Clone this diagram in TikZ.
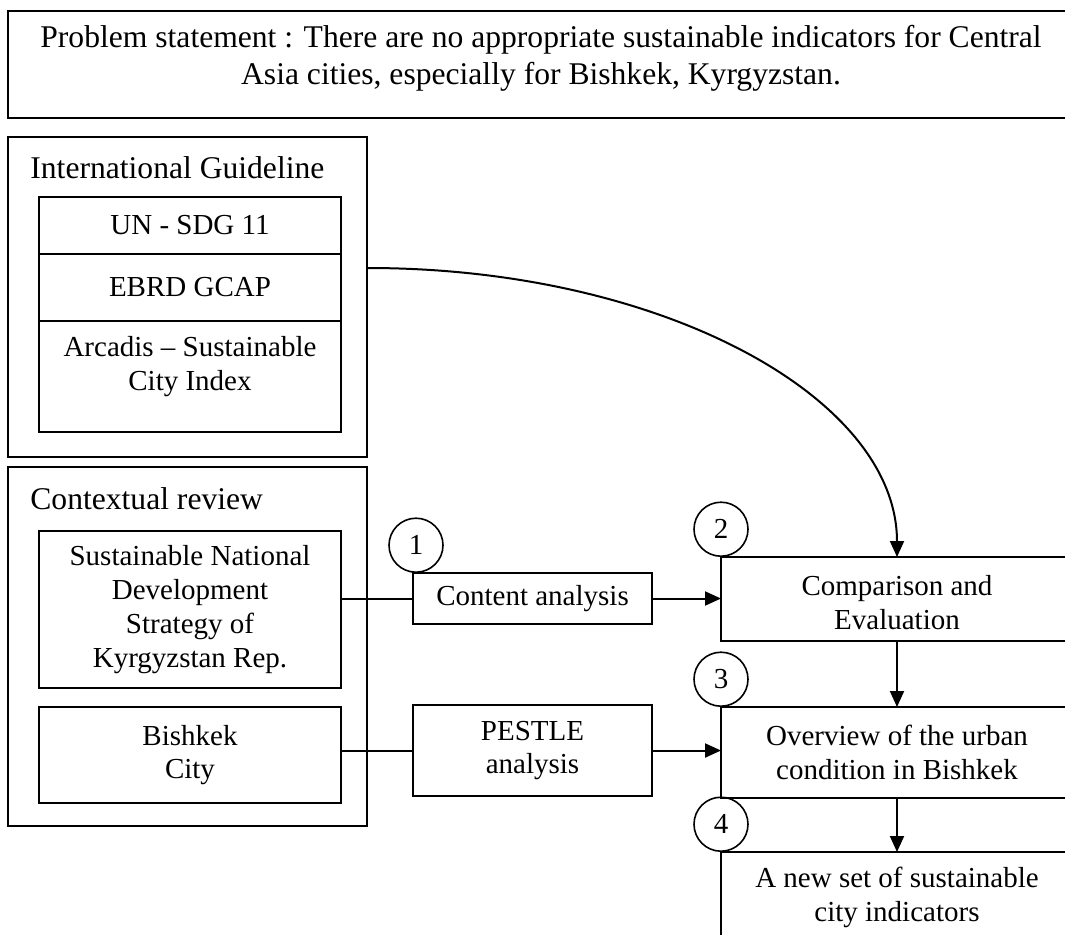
\documentclass[tikz,border=0pt]{standalone}
\usepackage{fontspec}
\setmainfont{Liberation Serif}
\usepackage{tikz}
\usetikzlibrary{positioning,arrows.meta}
\tikzset{
    group box/.style={
        draw,line width=1pt,
        minimum width=179.5pt
    },
    group title/.style={
        inner sep=0pt,anchor=base west,
        font=\fontsize{15.8}{18.4}\selectfont
    },
    item box/.style={
        draw,line width=1pt,outer sep=0pt,
        minimum width=151pt,
        align=center,
        font=\fontsize{14.5}{16.9}\selectfont
    },
    stage box/.style={
        item box,
        minimum width=176pt
    },
    number circle/.style={
        draw,circle,line width=.8pt,
        minimum size=27pt,inner sep=0pt,
        font=\fontsize{14.5}{16.9}\selectfont
    },
    >={Triangle[length=8pt,width=7pt]}
}
\begin{document}
\begin{tikzpicture}[x=0.5pt,y=-0.5pt]
\clip (0,0) rectangle (1065,934);
\node[draw,line width=1pt,minimum width=533pt,minimum height=53.5pt,align=center,font=\fontsize{15.8}{18.4}\selectfont] (problem) at (541,64.5) {Problem statement : There are no appropriate sustainable indicators for Central\\Asia cities, especially for Bishkek, Kyrgyzstan.\rule[-9.5pt]{0pt}{9.5pt}};

% international guideline
\node[group box,minimum height=160pt] (guide) at (187.5,297) {};
\node[group title] (guidetitle) at (30,178) {International Guideline};
\node[item box,minimum height=28.5pt] (sdg) at (190,225.5) {UN - SDG 11};
\node[item box,minimum height=33.5pt,below=0pt of sdg] (gcap) {EBRD GCAP};
\node[item box,minimum height=55.5pt,below=0pt of gcap] (arcadis) {Arcadis -- Sustainable\\City Index\rule[-13pt]{0pt}{13pt}};

% contextual review
\node[group box,minimum height=179.5pt] (context) at (187.5,646.5) {};
\node[group title] (contexttitle) at (30,509) {Contextual review};
\node[item box,minimum height=78.5pt] (strategy) at (190,609.5) {Sustainable National\\Development\\Strategy of\\Kyrgyzstan Rep.};
\node[item box,minimum height=48pt] (bishkek) at (190,755) {Bishkek\\City};

\node[item box,minimum width=119.5pt,minimum height=25.5pt] (content) at (532.5,598.5) {Content analysis};
\node[item box,minimum width=119.5pt,minimum height=45.5pt] (pestle) at (532.5,750.5) {PESTLE\\analysis};

\node[stage box,minimum height=42pt] (compare) at (897,599) {\rule{0pt}{14pt}Comparison and\\Evaluation};
\node[stage box,minimum height=45.5pt] (overview) at (897,752.5) {Overview of the urban\\condition in Bishkek};
\node[stage box,minimum height=45.5pt] (newset) at (897,897.5) {A new set of sustainable\\city indicators};

\node[number circle,above=0pt of content.north west,xshift=1.5pt] (n1) {1};
\foreach \i/\stage in {2/compare,3/overview,4/newset}
    \node[number circle,above=0pt of \stage.north west] (n\i) {\i};

\draw[line width=1pt] (content.west -| strategy.east) -- (content.west);
\draw[line width=1pt] (pestle.west -| bishkek.east) -- (pestle.west);
\draw[line width=1pt,->] (content.east) -- (content.east -| compare.west);
\draw[line width=1pt,->] (pestle.east) -- (pestle.east -| overview.west);
\draw[line width=1pt,->] (compare.south) -- (overview.north);
\draw[line width=1pt,->] (overview.south) -- (newset.north);
\draw[line width=1pt,->] ([yshift=14.5pt]guide.east) .. controls +(293,0) and +(0,-160) .. (compare.north);
\end{tikzpicture}
\end{document}
